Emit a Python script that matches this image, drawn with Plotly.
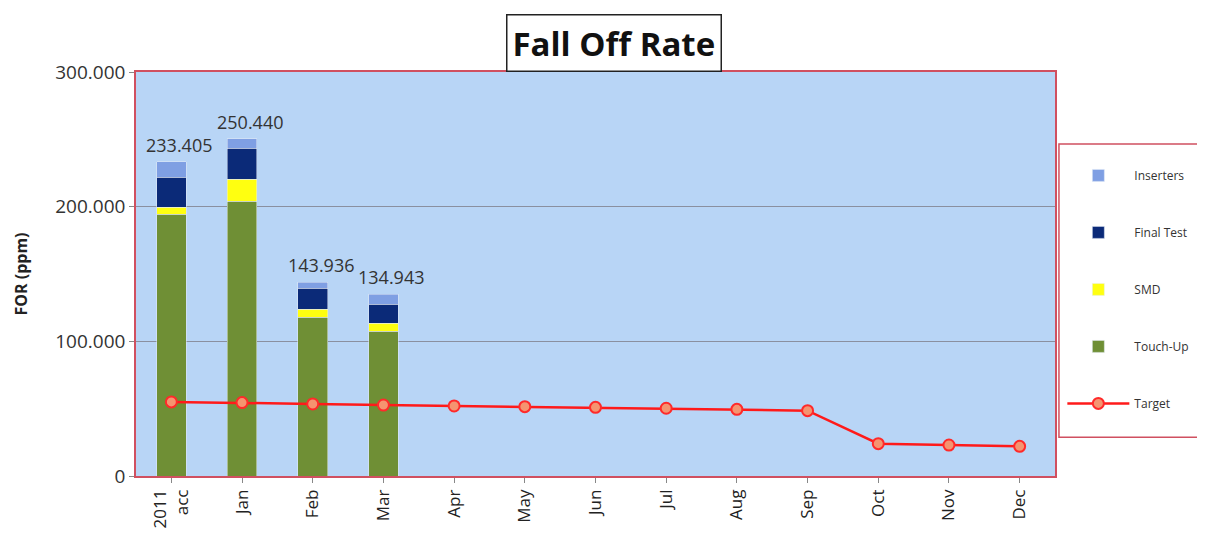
import plotly.graph_objects as go

categories = ["2011<br>acc", "Jan", "Feb", "Mar", "Apr", "May", "Jun", "Jul", "Aug", "Sep", "Oct", "Nov", "Dec"]
touch_up = [194.5, 204.2, 118.0, 107.6]
smd = [5.2, 16.3, 5.9, 5.9]
final_test = [22.3, 23.0, 15.6, 14.1]
inserters = [11.405, 6.94, 4.436, 7.343]
totals = [233.405, 250.440, 143.936, 134.943]
total_labels = ["233.405", "250.440", "143.936", "134.943"]
target = [55, 54.5, 53.5, 52.7, 52, 51.5, 51, 50.3, 49.5, 48.5, 24, 23, 22]
ytick_vals = [0, 100, 200, 300]
ytick_text = ["0", "100.000", "200.000", "300.000"]

font = "Open Sans"
fig = go.Figure()
bar_cats = categories[:4]
fig.add_bar(x=bar_cats, y=touch_up, name="Touch-Up", marker_color="#6f8f35",
            legendgroup="d", legendrank=4)
fig.add_bar(x=bar_cats, y=smd, name="SMD", marker_color="#ffff10",
            legendgroup="c", legendrank=3)
fig.add_bar(x=bar_cats, y=final_test, name="Final Test", marker_color="#0b2a78",
            legendgroup="b", legendrank=2)
fig.add_bar(x=bar_cats, y=inserters, name="Inserters", marker_color="#7f9fe3",
            legendgroup="a", legendrank=1)
fig.add_scatter(x=categories, y=target, name="Target", mode="lines+markers",
                line=dict(color="#ff1a1a", width=2.5),
                marker=dict(size=11, color="#f59470", line=dict(color="#ff2a2a", width=2)),
                legendgroup="e", legendrank=5)

for c, t, lab in zip(bar_cats, totals, total_labels):
    fig.add_annotation(x=c, y=t, text=lab, showarrow=False, yanchor="bottom",
                       yshift=3, xshift=8, font=dict(size=18, color="#333", family=font))

fig.add_annotation(x=0.5, y=1.0, xref="paper", yref="paper", xanchor="center",
                   yanchor="bottom", yshift=0, xshift=18, text="<b>Fall Off Rate</b>",
                   showarrow=False, font=dict(size=33, color="#111", family=font),
                   bordercolor="#222", borderwidth=1.5, bgcolor="white", borderpad=5)

# legend frame
fig.add_shape(type="rect", xref="paper", yref="paper", x0=1.0043, x1=1.159,
              y0=0.096, y1=0.822, line=dict(color="#d05060", width=1.5),
              fillcolor="white", layer="below")

fig.update_layout(
    width=1205, height=535,
    margin=dict(l=125, r=158, t=64, b=67),
    barmode="stack", bargap=0.58,
    paper_bgcolor="white", plot_bgcolor="#b8d5f6",
    font=dict(family=font, color="#333"),
    legend=dict(x=1.008, y=0.78, xanchor="left", yanchor="top",
                borderwidth=0, bgcolor="rgba(0,0,0,0)",
                tracegroupgap=38, traceorder="grouped",
                font=dict(size=12, color="#333", family=font),
                itemwidth=62),
    showlegend=True,
)
fig.update_xaxes(type="category", categoryorder="array", categoryarray=categories,
                 range=[-0.5, 12.5],
                 tickangle=-90, tickfont=dict(size=17, color="#222"),
                 showline=True, linecolor="#d05060", linewidth=1.5, mirror=True,
                 ticks="outside", ticklen=5, tickcolor="#888")
fig.update_yaxes(range=[0, 300], tickvals=ytick_vals, ticktext=ytick_text,
                 tickfont=dict(size=19, color="#333"),
                 title=dict(text="<b>FOR (ppm)</b>", font=dict(size=16, color="#222"), standoff=24),
                 showgrid=True, gridcolor="#8a90a0", gridwidth=1,
                 showline=True, linecolor="#d05060", linewidth=1.5, mirror=True,
                 ticks="outside", ticklen=5, tickcolor="#888", zeroline=False)

fig.write_html("out.html")
